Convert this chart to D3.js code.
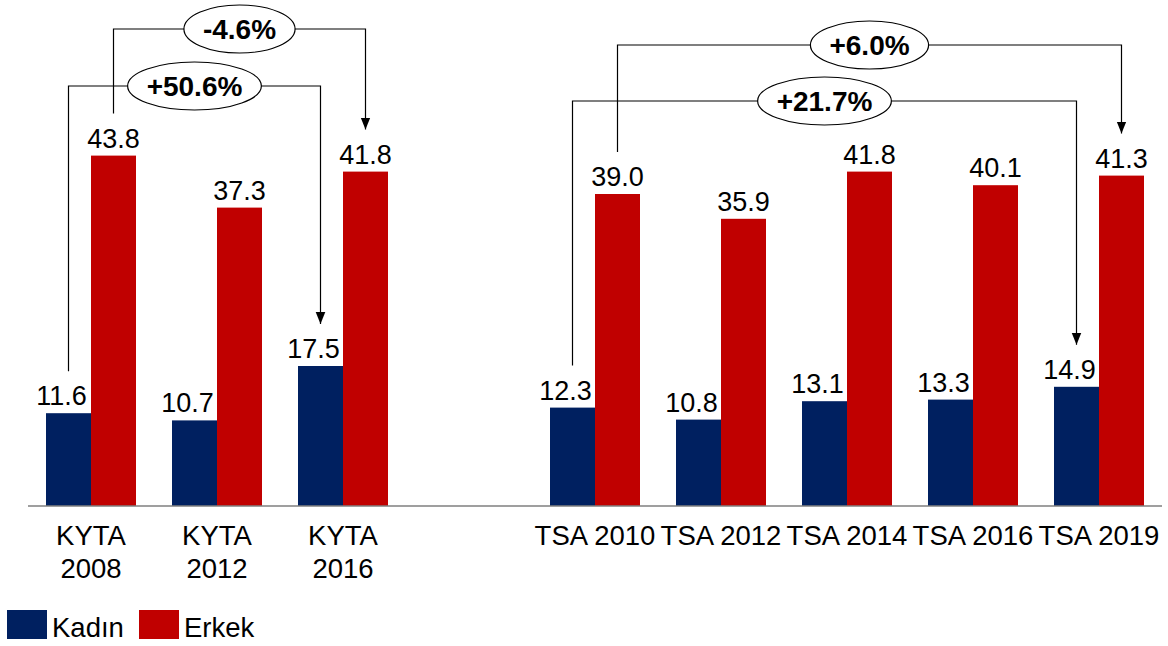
<!DOCTYPE html>
<html>
<head>
<meta charset="utf-8">
<script src="https://cdn.jsdelivr.net/npm/d3@7"></script>
<style>
  html, body { margin: 0; padding: 0; background: #fff; }
  svg { display: block; font-family: "Liberation Sans", Arial, sans-serif; }
</style>
</head>
<body>
<svg id="chart" width="1168" height="646"></svg>
<script>
// data
const categories = ["KYTA 2008", "KYTA 2012", "KYTA 2016", "TSA 2010", "TSA 2012", "TSA 2014", "TSA 2016", "TSA 2019"];
const tickLines = [["KYTA", "2008"], ["KYTA", "2012"], ["KYTA", "2016"], ["TSA 2010"], ["TSA 2012"], ["TSA 2014"], ["TSA 2016"], ["TSA 2019"]];
const kadin = [11.6, 10.7, 17.5, 12.3, 10.8, 13.1, 13.3, 14.9];
const erkek = [43.8, 37.3, 41.8, 39.0, 35.9, 41.8, 40.1, 41.3];
const seriesNames = ["Kadın", "Erkek"];
const annotations = [
    { label: "-4.6%", series: 1, from: "KYTA 2008", to: "KYTA 2016", group: "KYTA", tier: 0 },
    { label: "+50.6%", series: 0, from: "KYTA 2008", to: "KYTA 2016", group: "KYTA", tier: 1 },
    { label: "+6.0%", series: 1, from: "TSA 2010", to: "TSA 2019", group: "TSA", tier: 0 },
    { label: "+21.7%", series: 0, from: "TSA 2010", to: "TSA 2019", group: "TSA", tier: 1 }
];

const colors = ["#002060", "#c00000"];
const values = [kadin, erkek];
const baseY = 506;

const svg = d3.select("#chart");

// one empty slot between the two surveys
const slots = categories.slice(0, 3).concat(["_gap"], categories.slice(3));
const x = d3.scaleBand().domain(slots).range([28, 1162]).paddingInner(36 / 126).paddingOuter(18 / 126);
const xs = d3.scaleBand().domain([0, 1]).range([0, x.bandwidth()]);
const y = d3.scaleLinear().domain([0, 44]).range([baseY, baseY - 352]);

// bars
const groups = svg.append("g").selectAll("g")
    .data(categories)
    .join("g")
        .attr("transform", d => `translate(${x(d)},0)`);

groups.selectAll("rect")
    .data((d, i) => values.map((v, s) => ({ s, v: v[i] })))
    .join("rect")
        .attr("x", d => xs(d.s))
        .attr("y", d => y(d.v))
        .attr("width", xs.bandwidth())
        .attr("height", d => baseY - y(d.v))
        .attr("fill", d => colors[d.s]);

groups.selectAll("text.val")
    .data((d, i) => values.map((v, s) => ({ s, v: v[i] })))
    .join("text")
        .attr("class", "val")
        .attr("x", d => xs(d.s) + xs.bandwidth() / 2 + (d.s === 0 ? -7 : 0))
        .attr("y", d => y(d.v) - 8)
        .attr("text-anchor", "middle")
        .attr("font-size", 27)
        .attr("fill", "#000")
        .text(d => d.v.toFixed(1));

// baseline
svg.append("line")
    .attr("x1", 28).attr("x2", 1162)
    .attr("y1", baseY).attr("y2", baseY)
    .attr("stroke", "#7f7f7f")
    .attr("stroke-width", 1.5);

// category labels
groups.append("text")
    .attr("x", x.bandwidth() / 2)
    .attr("text-anchor", "middle")
    .attr("font-size", 27.5)
    .attr("fill", "#000")
    .selectAll("tspan")
    .data((d, i) => tickLines[i])
    .join("tspan")
        .attr("x", x.bandwidth() / 2)
        .attr("y", (d, j) => 545 + j * 33)
        .text(d => d);

// growth brackets
const tierY = { KYTA: [29, 86], TSA: [45, 101] };
svg.append("defs").append("marker")
    .attr("id", "arrow")
    .attr("viewBox", "0 0 10 10")
    .attr("refX", 10).attr("refY", 5)
    .attr("markerWidth", 12).attr("markerHeight", 12)
    .attr("markerUnits", "userSpaceOnUse")
    .attr("orient", "auto")
    .append("path")
        .attr("d", "M0,1 L10,5 L0,9 Z")
        .attr("fill", "#000");

annotations.forEach(a => {
    const i0 = categories.indexOf(a.from);
    const i1 = categories.indexOf(a.to);
    const x0 = x(a.from) + xs(a.series) + xs.bandwidth() / 2;
    const x1 = x(a.to) + xs(a.series) + xs.bandwidth() / 2;
    const y0 = y(values[a.series][i0]) - 42;
    const y1 = y(values[a.series][i1]) - 42;
    const ly = tierY[a.group][a.tier];

    svg.append("path")
        .attr("d", `M${x0},${y0} V${ly} H${x1} V${y1}`)
        .attr("fill", "none")
        .attr("stroke", "#000")
        .attr("stroke-width", 1.2)
        .attr("marker-end", "url(#arrow)");

    const g = svg.append("g").attr("transform", `translate(${(x0 + x1) / 2},${ly})`);
    const ell = g.append("ellipse").attr("fill", "#fff").attr("stroke", "#000").attr("stroke-width", 1.2);
    const t = g.append("text")
        .attr("text-anchor", "middle")
        .attr("dy", "0.35em")
        .attr("font-size", 28)
        .attr("font-weight", "bold")
        .attr("fill", "#000")
        .text(a.label);
    const w = t.node().getComputedTextLength();
    ell.attr("rx", w / 2 + 19).attr("ry", 24);
});

// legend
const legend = svg.append("g").attr("transform", "translate(7,610)");
const items = legend.selectAll("g")
    .data(seriesNames)
    .join("g")
        .attr("transform", (d, i) => `translate(${i * 132},0)`);
items.append("rect")
    .attr("width", 40).attr("height", 29)
    .attr("fill", (d, i) => colors[i]);
items.append("text")
    .attr("x", 45).attr("y", 27)
    .attr("font-size", 27.5)
    .attr("fill", "#000")
    .text(d => d);
</script>
</body>
</html>
